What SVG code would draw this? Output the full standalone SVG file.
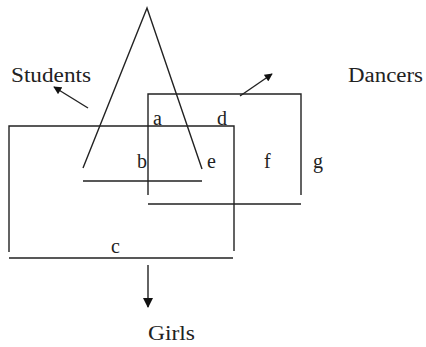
<svg xmlns="http://www.w3.org/2000/svg" width="426" height="347" viewBox="0 0 426 347">
<defs>
<style>
.ln{fill:none;stroke:#222;stroke-width:1.4}
.t{font-family:"Liberation Serif","Times New Roman",serif;fill:#222;font-size:20px}
.s{font-family:"Liberation Serif","Times New Roman",serif;fill:#222;font-size:20px}
</style>
<marker id="ah" viewBox="0 0 10 10" refX="9" refY="5" markerWidth="9" markerHeight="8" orient="auto" markerUnits="userSpaceOnUse">
<path d="M0,0 L10,5 L0,10 Z" fill="#111"/>
</marker>
<marker id="ah2" viewBox="0 0 10 10" refX="9" refY="5" markerWidth="11" markerHeight="10" orient="auto" markerUnits="userSpaceOnUse">
<path d="M0,0 L10,5 L0,10 Z" fill="#111"/>
</marker>
</defs>
<rect width="426" height="347" fill="#fff"/>
<g id="students">
<path class="ln" d="M83,168 L147,8 L202,169 M83,181 L202,181"/>
<text class="t" x="11" y="82" textLength="80" lengthAdjust="spacingAndGlyphs">Students</text>
</g>
<g id="dancers">
<path class="ln" d="M148,195 L148,94 L301,94 L301,195 M148,204 L301,204"/>
<text class="t" x="348" y="82" textLength="75" lengthAdjust="spacingAndGlyphs">Dancers</text>
</g>
<g id="girls">
<path class="ln" d="M9,252 L9,126 L234,126 L234,251 M9,258 L233,258"/>
<text class="t" x="148" y="340" textLength="47" lengthAdjust="spacingAndGlyphs">Girls</text>
</g>
<g id="regions">
<text class="s" x="153" y="125">a</text>
<text class="s" x="217" y="125">d</text>
<text class="s" x="137" y="168">b</text>
<text class="s" x="207" y="168">e</text>
<text class="s" x="264" y="168">f</text>
<text class="s" x="313" y="168">g</text>
<text class="s" x="111" y="253">c</text>
</g>
<g id="connectors">
<line class="ln" x1="88" y1="108" x2="54" y2="87" marker-end="url(#ah)"/>
<line class="ln" x1="240" y1="96" x2="272" y2="74" marker-end="url(#ah)"/>
<line class="ln" x1="148" y1="265" x2="148" y2="307" marker-end="url(#ah2)"/>
</g>
</svg>
